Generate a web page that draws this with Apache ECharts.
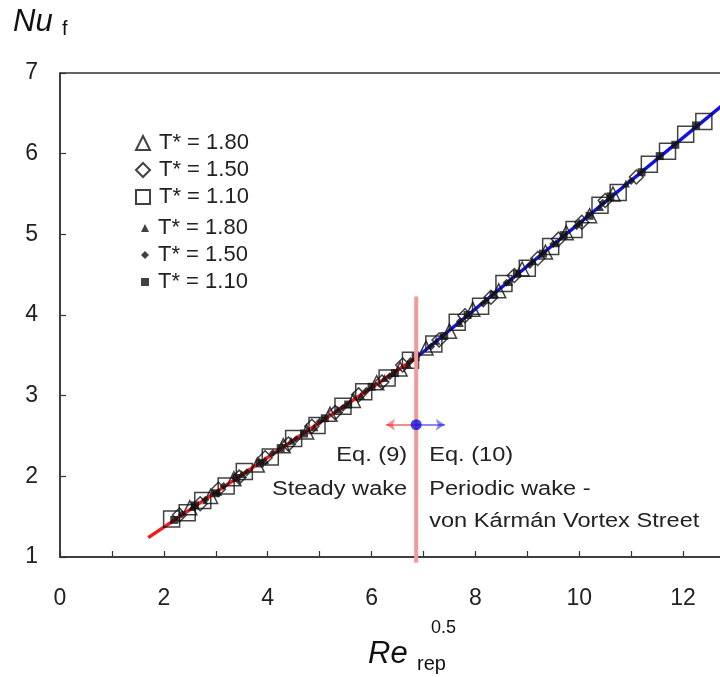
<!DOCTYPE html>
<html>
<head>
<meta charset="utf-8">
<script src="https://cdn.jsdelivr.net/npm/echarts@6/dist/echarts.min.js"></script>
<style>
  html, body { margin: 0; padding: 0; background: #fff; }
  #chart { width: 720px; height: 677px; }
</style>
</head>
<body>
<div id="chart"></div>
<script>
// Measured Nusselt numbers, grouped by temperature ratio T*
// Open markers
const open18X = [2.5, 2.9, 3.35, 3.8, 4.3, 4.75, 5.2, 5.65, 6.1, 6.55, 7.05, 7.5, 7.95, 8.45, 8.9, 9.35, 9.75, 10.2, 10.65];
const open18Y = [1.61, 1.75, 1.97, 2.14, 2.38, 2.55, 2.77, 2.94, 3.16, 3.33, 3.59, 3.80, 4.07, 4.30, 4.57, 4.78, 5.02, 5.23, 5.50];
const open15X = [2.3, 2.7, 3.05, 3.45, 3.95, 4.4, 4.85, 5.3, 5.75, 6.2, 6.6, 7.3, 7.8, 8.3, 8.75, 9.2, 9.6, 10.05, 10.5, 11.1];
const open15Y = [1.52, 1.66, 1.84, 1.99, 2.23, 2.40, 2.62, 2.79, 3.01, 3.17, 3.38, 3.69, 3.99, 4.22, 4.49, 4.70, 4.94, 5.15, 5.42, 5.71];
const open11X = [2.15, 2.45, 2.75, 3.2, 3.55, 4.05, 4.5, 4.95, 5.45, 5.85, 6.3, 6.75, 7.2, 7.65, 8.1, 8.55, 9.0, 9.45, 9.9, 10.4, 10.75, 11.35, 11.7, 12.05, 12.4];
const open11Y = [1.47, 1.55, 1.70, 1.88, 2.06, 2.24, 2.47, 2.63, 2.87, 3.05, 3.22, 3.44, 3.64, 3.91, 4.11, 4.39, 4.58, 4.85, 5.06, 5.36, 5.52, 5.87, 6.03, 6.24, 6.40];
// Filled markers
const solid18X = [2.55, 3.05, 3.5, 3.95, 4.45, 4.9, 5.35, 5.8, 6.25, 6.7, 7.25, 7.7, 8.2, 8.65, 9.1, 9.55, 10.0, 10.4, 10.9];
const solid18Y = [1.62, 1.81, 2.03, 2.20, 2.44, 2.61, 2.83, 3.00, 3.22, 3.39, 3.68, 3.90, 4.19, 4.41, 4.67, 4.89, 5.15, 5.34, 5.63];
const solid15X = [2.35, 2.8, 3.15, 3.6, 4.1, 4.55, 5.0, 5.45, 5.9, 6.35, 6.75, 7.15, 7.7, 8.15, 8.6, 9.05, 9.5, 9.95, 10.45, 11.0];
const solid15Y = [1.53, 1.71, 1.88, 2.05, 2.29, 2.46, 2.68, 2.85, 3.06, 3.24, 3.43, 3.61, 3.92, 4.14, 4.40, 4.62, 4.88, 5.10, 5.39, 5.66];
const solid11X = [2.2, 2.6, 3.0, 3.4, 3.85, 4.25, 4.7, 5.1, 5.55, 6.0, 6.45, 6.85, 7.4, 7.85, 8.35, 8.8, 9.3, 9.7, 10.2, 10.6, 11.2, 11.55, 11.85, 12.25];
const solid11Y = [1.46, 1.64, 1.79, 1.98, 2.16, 2.35, 2.53, 2.72, 2.89, 3.11, 3.28, 3.48, 3.74, 4.00, 4.25, 4.51, 4.76, 4.99, 5.23, 5.47, 5.77, 5.97, 6.11, 6.35];

// Correlation lines: Eq. (9) steady wake, Eq. (10) periodic wake
const eq9X = [1.7, 6.86];
const eq9Y = [1.24, 3.47];
const eq10X = [6.86, 13];
const eq10Y = [3.47, 6.73];

// Transition between the two wake regimes
const transitionX = 6.86;
const transitionLineY = [0.93, 4.23];
const transitionMarkY = 2.64;
const arrowLeftX = 6.28;
const arrowRightX = 7.41;

// Axis ticks
const xTicks = [0, 2, 4, 6, 8, 10, 12];
const yTicks = [1, 2, 3, 4, 5, 6, 7];

const legendLabels = {
  open18: 'T* = 1.80', open15: 'T* = 1.50', open11: 'T* = 1.10',
  solid18: 'T* = 1.80', solid15: 'T* = 1.50', solid11: 'T* = 1.10'
};

const zip = (xs, ys) => xs.map((x, i) => [x, ys[i]]);
const FONT = 'Liberation Sans';
const INK = '#111';

const openStyle = { color: 'rgba(255,255,255,0)', borderColor: INK, borderWidth: 1.5 };
const solidStyle = { color: INK };
const legendText = { fontFamily: FONT, fontSize: 22, lineHeight: 22, color: '#222', padding: [0, 0, 0, 4] };

const chart = echarts.init(document.getElementById('chart'), null, { renderer: 'canvas' });

const option = {
  animation: false,
  backgroundColor: '#fff',
  // the plot runs on past the right edge of the canvas (x max = 13)
  grid: {
    left: 60, top: 73, width: 675, height: 484,
    outerBoundsMode: 'none', containLabel: false,
    show: true, borderColor: '#333', borderWidth: 1.5, backgroundColor: 'transparent'
  },
  xAxis: {
    type: 'value', min: 0, max: 13, interval: 1,
    axisLine: { show: true, onZero: false, lineStyle: { color: '#333', width: 1.5 } },
    axisTick: { show: true, inside: true, length: 6, lineStyle: { color: '#333', width: 1.2 } },
    axisLabel: {
      margin: 30, fontFamily: FONT, fontSize: 23, color: '#222',
      formatter: v => (xTicks.indexOf(v) >= 0 ? String(v) : '')
    },
    splitLine: { show: false }
  },
  yAxis: {
    type: 'value', min: 1, max: 7, interval: 1,
    axisLine: { show: true, onZero: false, lineStyle: { color: '#333', width: 1.5 } },
    axisTick: { show: true, inside: true, length: 6, lineStyle: { color: '#333', width: 1.2 } },
    axisLabel: {
      margin: 22, fontFamily: FONT, fontSize: 23, color: '#222',
      formatter: v => (yTicks.indexOf(v) >= 0 ? String(v) : '')
    },
    splitLine: { show: false }
  },
  legend: [
    {
      orient: 'vertical', left: 135, top: 132, padding: 0,
      itemWidth: 14, itemHeight: 14, itemGap: 5,
      textStyle: legendText,
      formatter: n => legendLabels[n],
      data: [
        { name: 'open18', icon: 'triangle' },
        { name: 'open15', icon: 'diamond' },
        { name: 'open11', icon: 'rect' }
      ]
    },
    {
      orient: 'vertical', left: 141, top: 217, padding: 0,
      itemWidth: 8, itemHeight: 8, itemGap: 5,
      textStyle: legendText,
      formatter: n => legendLabels[n],
      data: [
        { name: 'solid18', icon: 'triangle' },
        { name: 'solid15', icon: 'diamond' },
        { name: 'solid11', icon: 'rect' }
      ]
    }
  ],
  series: [
    {
      name: 'eq9', type: 'line', data: zip(eq9X, eq9Y), symbol: 'none', z: 1,
      lineStyle: { color: '#f21a1a', width: 3.5 }
    },
    {
      name: 'eq10', type: 'line', data: zip(eq10X, eq10Y), symbol: 'none', z: 1,
      lineStyle: { color: '#1212e0', width: 3.5 }
    },
    {
      name: 'open18', type: 'scatter', symbol: 'triangle', symbolSize: 14, z: 3,
      itemStyle: openStyle, data: zip(open18X, open18Y)
    },
    {
      name: 'open15', type: 'scatter', symbol: 'diamond', symbolSize: 14, z: 3,
      itemStyle: openStyle, data: zip(open15X, open15Y)
    },
    {
      name: 'open11', type: 'scatter', symbol: 'rect', symbolSize: 16, z: 3,
      itemStyle: openStyle, data: zip(open11X, open11Y)
    },
    {
      name: 'solid18', type: 'scatter', symbol: 'triangle', symbolSize: 8, z: 4,
      itemStyle: solidStyle, data: zip(solid18X, solid18Y)
    },
    {
      name: 'solid15', type: 'scatter', symbol: 'diamond', symbolSize: 8, z: 4,
      itemStyle: solidStyle, data: zip(solid15X, solid15Y)
    },
    {
      name: 'solid11', type: 'scatter', symbol: 'rect', symbolSize: 8, z: 4,
      itemStyle: solidStyle, data: zip(solid11X, solid11Y)
    },
    {
      name: 'transition', type: 'line', symbol: 'none', clip: false, z: 5,
      lineStyle: { color: '#f29a9a', width: 4 },
      data: transitionLineY.map(y => [transitionX, y])
    },
    {
      name: 'regimeArrows', type: 'lines', coordinateSystem: 'cartesian2d', z: 6,
      symbol: ['none', 'arrow'], symbolSize: 9,
      data: [
        { coords: [[transitionX, transitionMarkY], [arrowLeftX, transitionMarkY]], lineStyle: { color: '#f21a1a', width: 2 } },
        { coords: [[transitionX, transitionMarkY], [arrowRightX, transitionMarkY]], lineStyle: { color: '#1212e0', width: 2 } }
      ]
    },
    {
      name: 'transitionPoint', type: 'scatter', symbol: 'circle', symbolSize: 11, z: 7,
      itemStyle: { color: '#1212e0' },
      data: [[transitionX, transitionMarkY]]
    }
  ]
};

chart.setOption(option);

// Annotation text, anchored to the transition position on the axes
const anchor = chart.convertToPixel({ gridIndex: 0 }, [transitionX, transitionMarkY]);
const ax = anchor[0];
const ay = anchor[1];
const noteStyle = { fontFamily: FONT, fontSize: 20, fill: '#222', textVerticalAlign: 'middle' };

chart.setOption({
  graphic: [
    { type: 'text', x: ax - 9, y: ay + 31, scaleX: 1.18, style: Object.assign({ text: 'Eq. (9)', textAlign: 'right' }, noteStyle) },
    { type: 'text', x: ax - 9, y: ay + 65, scaleX: 1.18, style: Object.assign({ text: 'Steady wake', textAlign: 'right' }, noteStyle) },
    { type: 'text', x: ax + 13, y: ay + 31, scaleX: 1.18, style: Object.assign({ text: 'Eq. (10)', textAlign: 'left' }, noteStyle) },
    { type: 'text', x: ax + 13, y: ay + 65, scaleX: 1.18, style: Object.assign({ text: 'Periodic wake -', textAlign: 'left' }, noteStyle) },
    { type: 'text', x: ax + 13, y: ay + 97, scaleX: 1.18, style: Object.assign({ text: 'von Kármán Vortex Street', textAlign: 'left' }, noteStyle) },
    // y-axis title: Nu with subscript f
    { type: 'text', x: 13, y: 22, style: { text: 'Nu', fontFamily: FONT, fontSize: 31, fontStyle: 'italic', fill: '#111', textVerticalAlign: 'middle' } },
    { type: 'text', x: 62, y: 29, style: { text: 'f', fontFamily: FONT, fontSize: 20, fill: '#111', textVerticalAlign: 'middle' } },
    // x-axis title: Re_rep^0.5
    { type: 'text', x: 368, y: 654, style: { text: 'Re', fontFamily: FONT, fontSize: 31, fontStyle: 'italic', fill: '#111', textVerticalAlign: 'middle' } },
    { type: 'text', x: 417, y: 664, style: { text: 'rep', fontFamily: FONT, fontSize: 20, fill: '#111', textVerticalAlign: 'middle' } },
    { type: 'text', x: 431, y: 628, style: { text: '0.5', fontFamily: FONT, fontSize: 18, fill: '#111', textVerticalAlign: 'middle' } }
  ]
});
</script>
</body>
</html>
